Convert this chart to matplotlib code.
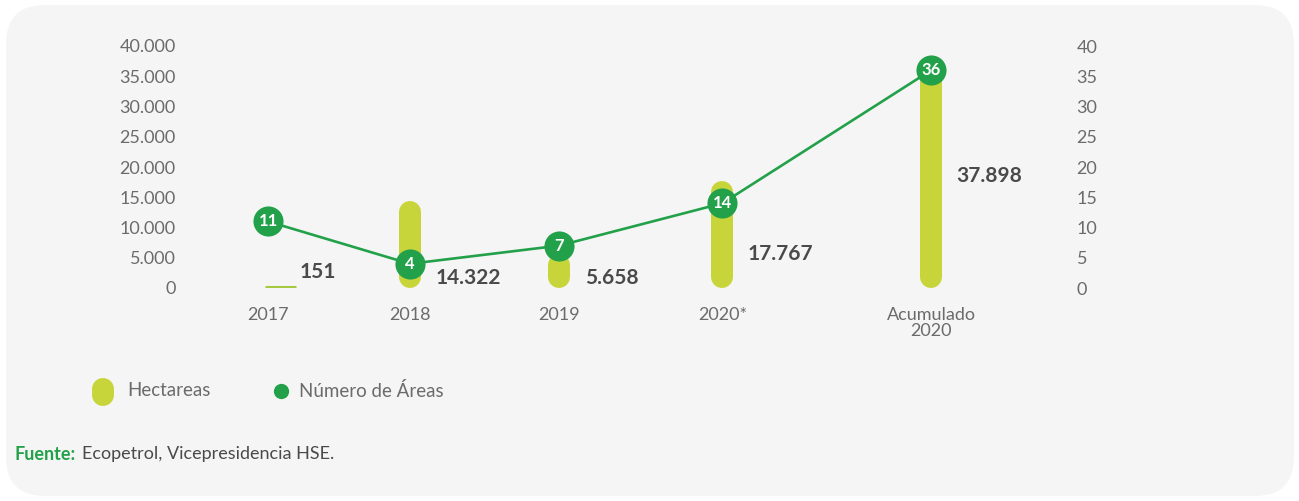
import matplotlib.pyplot as plt
from matplotlib.patches import FancyBboxPatch
from matplotlib.lines import Line2D
from matplotlib.ticker import FuncFormatter

plt.rcParams['font.family'] = ['Lato', 'DejaVu Sans']

categorias = ['2017', '2018', '2019', '2020*', 'Acumulado\n2020']
hectareas = [151, 14322, 5658, 17767, 37898]
num_areas = [11, 4, 7, 14, 36]
etiquetas_ha = ['151', '14.322', '5.658', '17.767', '37.898']

# layout (posiciones en el eje x y altura de las etiquetas)
xpos = [0, 1, 2.05, 3.2, 4.67]
label_y = [2600, 1650, 1650, 5600, 18500]

verde_claro = '#c8d53a'
verde = '#23a14a'
gris = '#6b6b6b'
gris_osc = '#4a4a4a'

W, H = 1299, 501
fig = plt.figure(figsize=(W / 100, H / 100), dpi=100)
fig.patch.set_facecolor('white')
fondo = FancyBboxPatch((6 / W, 5 / H), 1288 / W, 491 / H,
                       boxstyle='round,pad=0,rounding_size=0.03',
                       transform=fig.transFigure, facecolor='#f5f5f5',
                       edgecolor='none', mutation_aspect=W / H, zorder=-10)
fig.patches.append(fondo)

ax = fig.add_axes([195 / W, (H - 288) / H, 865 / W, 242 / H])
ax.set_facecolor('none')
ax.set_ylim(0, 40000)
ax.set_xlim((195 - 268) / 142, (1060 - 268) / 142)
for s in ax.spines.values():
    s.set_visible(False)
ax.set_yticks(range(0, 40001, 5000))
ax.yaxis.set_major_formatter(FuncFormatter(lambda v, p: f'{int(v):,}'.replace(',', '.')))
ax.tick_params(axis='y', length=0, pad=14, labelsize=13, labelcolor=gris)
ax.set_xticks(xpos)
ax.set_xticklabels(categorias, linespacing=0.95)
ax.tick_params(axis='x', length=0, pad=14, labelsize=13, labelcolor=gris)

# barras redondeadas
px_y = 242 / 40000
r = 11 / px_y
lw = 22 * 72 / 100
for x, v, lab, ly in zip(xpos, hectareas, etiquetas_ha, label_y):
    if v < 2 * r:
        ax.plot([x - 0.02, x + 0.2], [v, v], color='#a5c940', lw=2.2,
                solid_capstyle='butt', zorder=2)
        tx = x + 0.22
    else:
        ax.plot([x, x], [r, v - r], color=verde_claro, lw=lw,
                solid_capstyle='round', zorder=2)
        tx = x + 0.18
    ax.text(tx, ly, lab, fontsize=15, fontweight='bold', color=gris_osc,
            va='center', ha='left')

ax2 = ax.twinx()
ax2.set_ylim(0, 40)
for s in ax2.spines.values():
    s.set_visible(False)
ax2.set_yticks(range(0, 41, 5))
ax2.tick_params(axis='y', length=0, pad=12, labelsize=13, labelcolor=gris)
ax2.plot(xpos, num_areas, color=verde, lw=1.9, zorder=3)
ax2.scatter(xpos, num_areas, s=470, color=verde, zorder=4, linewidths=0)
for x, n in zip(xpos, num_areas):
    ax2.text(x, n, str(n), color='white', fontsize=12, fontweight='bold',
             ha='center', va='center', zorder=5)

# leyenda
fig.add_artist(Line2D([102.5 / W, 102.5 / W], [(H - 389) / H, (H - 395) / H],
                      transform=fig.transFigure, color=verde_claro, lw=lw,
                      solid_capstyle='round'))
fig.text(127 / W, (H - 391) / H, 'Hectareas', fontsize=13.5, color=gris, va='center')
fig.add_artist(Line2D([280.5 / W], [(H - 390.5) / H], transform=fig.transFigure,
                      marker='o', markersize=11, color=verde, markeredgewidth=0))
fig.text(299 / W, (H - 391) / H, 'Número de Áreas', fontsize=13.5, color=gris, va='center')

fig.text(15 / W, (H - 454) / H, 'Fuente:', fontsize=13, color=verde,
         fontweight='bold', va='center')
fig.text(82 / W, (H - 454) / H, 'Ecopetrol, Vicepresidencia HSE.', fontsize=13,
         color=gris_osc, va='center')

fig.savefig('out.png', dpi=100)
